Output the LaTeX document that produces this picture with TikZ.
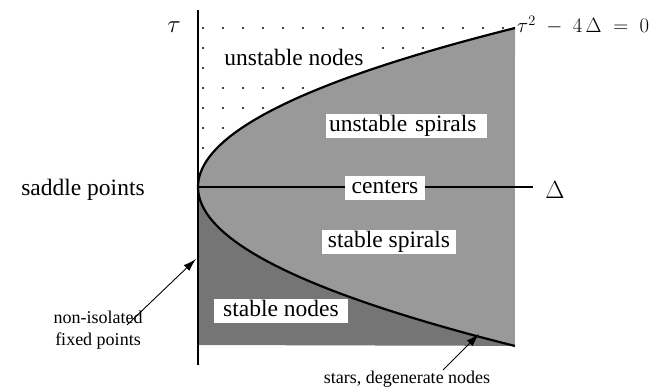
\documentclass[tikz,border=0pt]{standalone}
\usepackage{fontspec}
\setmainfont{Liberation Serif}
\usetikzlibrary{arrows.meta}
\definecolor{spiralgray}{gray}{0.6}
\definecolor{nodegray}{gray}{0.46}
\begin{document}
\begin{tikzpicture}[x=1pt,y=-1pt,
  lbl/.style={font=\fontsize{23.5}{26}\selectfont, inner sep=0pt},
  boxlbl/.style={lbl, fill=white, text height=16pt, text depth=5pt, inner xsep=4pt, inner ysep=1.5pt},
  small/.style={font=\fontsize{18}{22}\selectfont, align=center, inner sep=0pt},
  ptr/.style={-{Latex[length=13pt,width=8pt]}, line width=0.9pt},
  curve/.style={line width=2.2pt},
  axis/.style={line width=1.8pt},
  dotmark/.style={fill=black}]
\useasboundingbox (0,0) rectangle (655,390);
% dotted grid (unstable nodes region)
\foreach \i in {0,...,15}{
  \foreach \j in {0,...,6}{
    \fill[dotmark] ({203+20*\i},{28+20*\j}) circle (1.1);
  }
}
% label of the unstable nodes region (white box hides the dots)
\node[lbl, fill=white, minimum width=170pt, minimum height=35pt] (unodes) at (294,57) {unstable nodes};
% shaded regions
\fill[spiralgray] plot[domain=-1:1, samples=80, variable=\t] ({198+317*\t*\t},{187+159*\t}) -- cycle;
\fill[nodegray] plot[domain=0:1, samples=60, variable=\t] ({198+317*\t*\t},{187+159*\t}) -- (198,345) -- cycle;
% parabola
\draw[curve] plot[domain=-1:1, samples=80, variable=\t] ({198+317*\t*\t},{187+159*\t});
% axes
\coordinate (origin) at (198,187);
\coordinate (tautop) at (198,10);
\coordinate (taubot) at (198,365);
\coordinate (deltaend) at (533,187);
\draw[axis] (taubot) -- (tautop);
\draw[line width=1.5pt] (origin) -- (deltaend);
% axis labels
\node[font=\fontsize{36}{38}\selectfont, inner sep=0pt] (taulbl) at (174,27) {$\tau$};
\node[font=\fontsize{27}{29}\selectfont, inner sep=0pt] (deltalbl) at (555,190) {$\Delta$};
\node[font=\fontsize{22}{24}\selectfont, inner sep=0pt, anchor=base west] (paraboleq) at (517,33) {$\tau^2\;-\;4\,\Delta\;=\;0$};
% region labels
\node[boxlbl, text width=155pt, align=left, inner xsep=3pt] (uspirals) at (406.5,126.5) {unstable spirals};
\node[boxlbl, minimum width=80pt] (centers) at (385,188) {centers};
\node[boxlbl, minimum width=134pt] (sspirals) at (389,241.5) {stable spirals};
\node[boxlbl, minimum width=134pt] (snodes) at (281,310.5) {stable nodes};
\node[lbl, anchor=base] (saddle) at (83,195) {saddle points};
\node[small, anchor=base] (nonisol) at (98,345) {non-isolated\\fixed points};
\node[small, anchor=base] (stars) at (407,383) {stars, degenerate nodes};
% pointers
\coordinate (a1tail) at (127,325);
\coordinate (a1head) at (196,259);
\coordinate (a2tail) at (443,370);
\coordinate (a2head) at (479,334);
\draw[ptr] (a1tail) -- (a1head);
\draw[ptr] (a2tail) -- (a2head);
\end{tikzpicture}
\end{document}
